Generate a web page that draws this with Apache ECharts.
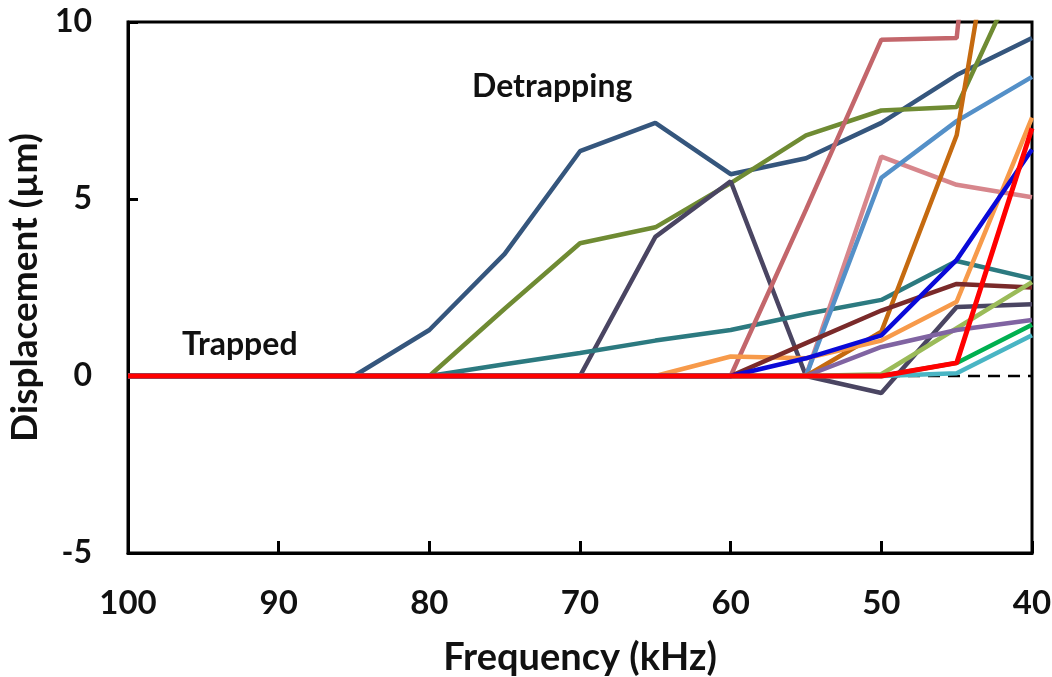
<!DOCTYPE html>
<html>
<head>
<meta charset="utf-8">
<script src="https://cdn.jsdelivr.net/npm/echarts@6/dist/echarts.min.js"></script>
<style>
  html, body { margin: 0; padding: 0; background: #fff; }
  #chart { width: 1052px; height: 677px; }
</style>
</head>
<body>
<div id="chart"></div>
<script>
// frequency points (kHz), axis runs 100 -> 40
var freq = [100, 95, 90, 85, 80, 75, 70, 65, 60, 55, 50, 45, 40];

// displacement (um) for each trace
var navyLine   = [0, 0, 0, 0, 1.3, 3.45, 6.35, 7.15, 5.7, 6.15, 7.15, 8.5, 9.55];
var oliveLine  = [0, 0, 0, 0, 0, 1.9, 3.75, 4.2, 5.45, 6.8, 7.5, 7.6, 12.2];
var slateLine  = [0, 0, 0, 0, 0, 0, 0, 3.93, 5.5, 0, -0.48, 1.95, 2.03];
var tealLine   = [0, 0, 0, 0, 0, 0.33, 0.65, 1.0, 1.3, 1.75, 2.15, 3.25, 2.75];
var roseLine   = [0, 0, 0, 0, 0, 0, 0, 0, 0, 4.7, 9.5, 9.55, 30];
var pinkLine   = [0, 0, 0, 0, 0, 0, 0, 0, 0, 0, 6.2, 5.4, 5.05];
var steelLine  = [0, 0, 0, 0, 0, 0, 0, 0, 0, 0, 5.6, 7.2, 8.45];
var amberLine  = [0, 0, 0, 0, 0, 0, 0, 0, 0, 0, 1.25, 6.8, 19.5];
var peachLine  = [0, 0, 0, 0, 0, 0, 0, 0, 0.55, 0.5, 1.0, 2.1, 7.3];
var blueLine   = [0, 0, 0, 0, 0, 0, 0, 0, 0, 0.5, 1.15, 3.28, 6.4];
var maroonLine = [0, 0, 0, 0, 0, 0, 0, 0, 0, 0.93, 1.85, 2.6, 2.5];
var limeLine   = [0, 0, 0, 0, 0, 0, 0, 0, 0, 0, 0.05, 1.35, 2.65];
var greenLine  = [0, 0, 0, 0, 0, 0, 0, 0, 0, 0, 0, 0.37, 1.45];
var cyanLine   = [0, 0, 0, 0, 0, 0, 0, 0, 0, 0, 0, 0.08, 1.15];
var purpleLine = [0, 0, 0, 0, 0, 0, 0, 0, 0, 0, 0.82, 1.3, 1.58];
var redLine    = [0, 0, 0, 0, 0, 0, 0, 0, 0, 0, 0, 0.37, 7.0];

var baseline = [0, 0];
var baseFreq = [100, 40];

var yTicks = [-5, 0, 5, 10];

function pairs(xs, ys) {
  return xs.map(function (x, i) { return [x, ys[i]]; });
}

var traces = [
  { data: navyLine,   color: '#35567d' },
  { data: oliveLine,  color: '#6f8b33' },
  { data: slateLine,  color: '#4a4562' },
  { data: tealLine,   color: '#2c7a80' },
  { data: roseLine,   color: '#c3666b' },
  { data: pinkLine,   color: '#d7868c' },
  { data: steelLine,  color: '#5490c8' },
  { data: amberLine,  color: '#c56a10' },
  { data: peachLine,  color: '#f79a4a' },
  { data: maroonLine, color: '#7a2a2a' },
  { data: limeLine,   color: '#9bbb59' },
  { data: purpleLine, color: '#8064a2' },
  { data: greenLine,  color: '#00b050' },
  { data: cyanLine,   color: '#49b5c4' },
  { data: blueLine,   color: '#0a0ad8' },
  { data: redLine,    color: '#ff0000', width: 5 }
];

var series = [{
  type: 'line',
  data: pairs(baseFreq, baseline),
  symbol: 'none',
  silent: true,
  lineStyle: { color: '#000', width: 2.5, type: [12, 8] }
}];

traces.forEach(function (t) {
  series.push({
    type: 'line',
    data: pairs(freq, t.data),
    symbol: 'none',
    clip: true,
    lineStyle: { color: t.color, width: t.width || 4.5 }
  });
});

var font = 'Lato, "Open Sans", sans-serif';

var chart = echarts.init(document.getElementById('chart'));
chart.setOption({
  animation: false,
  backgroundColor: '#fff',
  grid: {
    left: 128, right: 20, top: 22, bottom: 124,
    outerBoundsMode: 'none',
    show: true, borderColor: '#000', borderWidth: 3
  },
  xAxis: {
    type: 'value',
    inverse: true,
    min: 40, max: 100, interval: 10,
    name: 'Frequency (kHz)',
    nameLocation: 'middle',
    nameGap: 86,
    nameTextStyle: { fontFamily: font, fontWeight: 'bold', fontSize: 38, color: '#111' },
    axisLine: { show: true, onZero: false, lineStyle: { color: '#000', width: 3 } },
    axisTick: { show: true, inside: true, length: 12, lineStyle: { color: '#000', width: 3 } },
    axisLabel: { margin: 34, fontFamily: font, fontWeight: 'bold', fontSize: 33, color: '#111' },
    splitLine: { show: false }
  },
  yAxis: {
    type: 'value',
    min: yTicks[0], max: yTicks[yTicks.length - 1], interval: 5,
    name: 'Displacement (µm)',
    nameLocation: 'middle',
    nameGap: 76,
    nameTextStyle: { fontFamily: font, fontWeight: 'bold', fontSize: 37, color: '#111' },
    axisLine: { show: true, onZero: false, lineStyle: { color: '#000', width: 3 } },
    axisTick: { show: true, inside: true, length: 10, lineStyle: { color: '#000', width: 3 } },
    axisLabel: { margin: 36, fontFamily: font, fontWeight: 'bold', fontSize: 32, color: '#111' },
    splitLine: { show: false }
  },
  graphic: [
    { type: 'text', left: 472, top: 71,
      style: { text: 'Detrapping', font: 'bold 32px ' + font, fill: '#111' } },
    { type: 'text', left: 182, top: 329,
      style: { text: 'Trapped', font: 'bold 32px ' + font, fill: '#111' } }
  ],
  series: series
});
</script>
</body>
</html>
